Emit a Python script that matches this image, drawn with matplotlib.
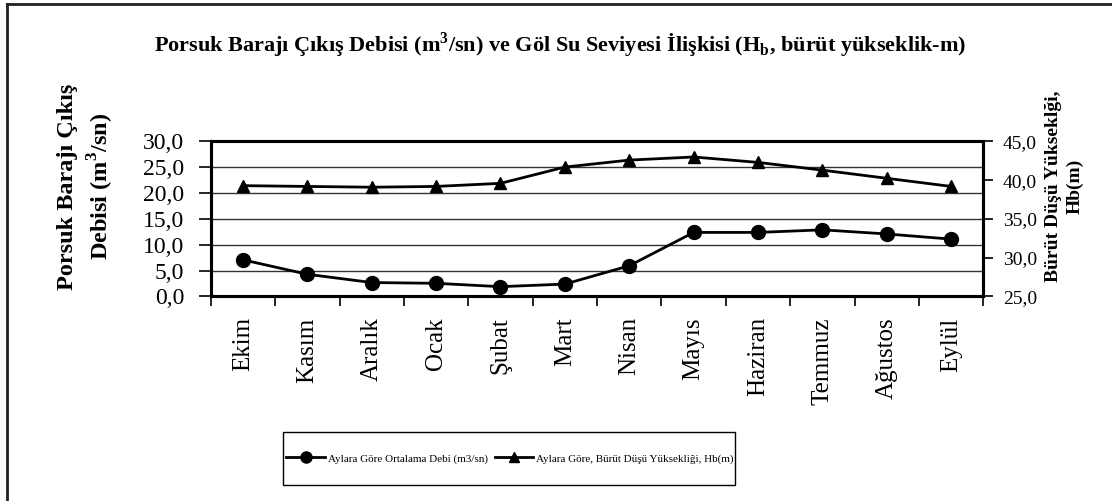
import matplotlib
matplotlib.use("Agg")
import matplotlib.pyplot as plt
from matplotlib.lines import Line2D
from matplotlib.patches import Rectangle

plt.rcParams['font.family'] = ['Liberation Serif', 'DejaVu Serif']
plt.rcParams['mathtext.fontset'] = 'custom'
plt.rcParams['mathtext.rm'] = 'Liberation Serif'
plt.rcParams['mathtext.bf'] = 'Liberation Serif:bold'

months = ["Ekim", "Kasım", "Aralık", "Ocak", "Şubat", "Mart", "Nisan",
          "Mayıs", "Haziran", "Temmuz", "Ağustos", "Eylül"]
debi = [7.1, 4.3, 2.7, 2.55, 1.9, 2.4, 5.95, 12.4, 12.4, 12.9, 12.1, 11.1]
hb = [39.3, 39.2, 39.1, 39.2, 39.6, 41.7, 42.6, 43.0, 42.3, 41.3, 40.25, 39.2]
left_ticks = [0, 5, 10, 15, 20, 25, 30]
right_ticks = [25, 30, 35, 40, 45]

def fmt(v):
    return f"{v:.1f}".replace(".", ",")

W, H = 1112, 501
fig = plt.figure(figsize=(W / 100, H / 100), dpi=100)
ax = fig.add_axes([0.1895, 0.4082, 0.8844 - 0.1895, 0.7176 - 0.4082])
ax2 = ax.twinx()

x = list(range(len(months)))
l1, = ax.plot(x, debi, color='black', lw=2, marker='o', markersize=10,
              label='Aylara Göre Ortalama Debi (m3/sn)', zorder=3)
l2, = ax2.plot(x, hb, color='black', lw=2, marker='^', markersize=9,
               label='Aylara Göre, Bürüt Düşü Yüksekliği, Hb(m)', zorder=3)

ax.set_xlim(-0.5, len(months) - 0.5)
ax.set_ylim(0, 30)
ax2.set_ylim(25, 45)

ax.set_yticks(left_ticks)
ax.set_yticklabels([fmt(v) for v in left_ticks], fontsize=17)
ax2.set_yticks(right_ticks)
ax2.set_yticklabels([fmt(v) for v in right_ticks], fontsize=14)

ax.set_xticks([i - 0.5 for i in range(len(months) + 1)])
ax.set_xticklabels([])
ax.set_xticks(x, minor=True)
ax.set_xticklabels(months, minor=True, rotation=90, fontsize=18, va='top', ha='center')
ax.tick_params(axis='x', which='major', length=7, width=1.2, direction='out')
ax.tick_params(axis='x', which='minor', length=0, pad=15)
ax.tick_params(axis='y', length=9, width=1.2, pad=10)
ax2.tick_params(axis='y', length=7, width=1.2, pad=7)

ax.yaxis.grid(True, color='#333333', lw=1)
ax.set_axisbelow(True)

for a in (ax, ax2):
    for s in a.spines.values():
        s.set_linewidth(2.2)
        s.set_color('black')

fig.text(0.061, 0.627, 'Porsuk Barajı Çıkış', rotation=90, fontsize=17.5,
         fontweight='bold', ha='center', va='center')
fig.text(0.0905, 0.627, r'Debisi (m$^{\mathbf{3}}$/sn)', rotation=90, fontsize=17.5,
         fontweight='bold', ha='center', va='center')
fig.text(0.947, 0.6275, 'Bürüt Düşü Yükseklği,', rotation=90, fontsize=14,
         fontweight='bold', ha='center', va='center')
fig.text(0.967, 0.6275, 'Hb(m)', rotation=90, fontsize=14,
         fontweight='bold', ha='center', va='center')

fig.text(0.5035, 0.91,
         r'Porsuk Barajı Çıkış Debisi (m$^{\mathbf{3}}$/sn) ve Göl Su Seviyesi İlişkisi (H$_{\mathbf{b}}$, bürüt yükseklik-m)',
         fontsize=16, fontweight='bold', ha='center', va='center')

leg = fig.legend(handles=[l1, l2], loc='center', bbox_to_anchor=(0.4586, 0.0848),
                 ncol=2, fontsize=8, frameon=False,
                 handlelength=3.5, handletextpad=0.25, columnspacing=0.6,
                 borderpad=0.0, markerscale=0.8)

fig.add_artist(Rectangle((283 / W, 1 - 485 / H), (735 - 283) / W, (485 - 432) / H,
                         transform=fig.transFigure, fill=False, edgecolor='black', lw=1.0))

fig.add_artist(Line2D([0.0063, 1.0], [0.992, 0.992], transform=fig.transFigure,
                      color='#222222', lw=2))
fig.add_artist(Line2D([0.0063, 0.0063], [0.0, 0.992], transform=fig.transFigure,
                      color='#222222', lw=2))

fig.savefig('out.png', dpi=100)
